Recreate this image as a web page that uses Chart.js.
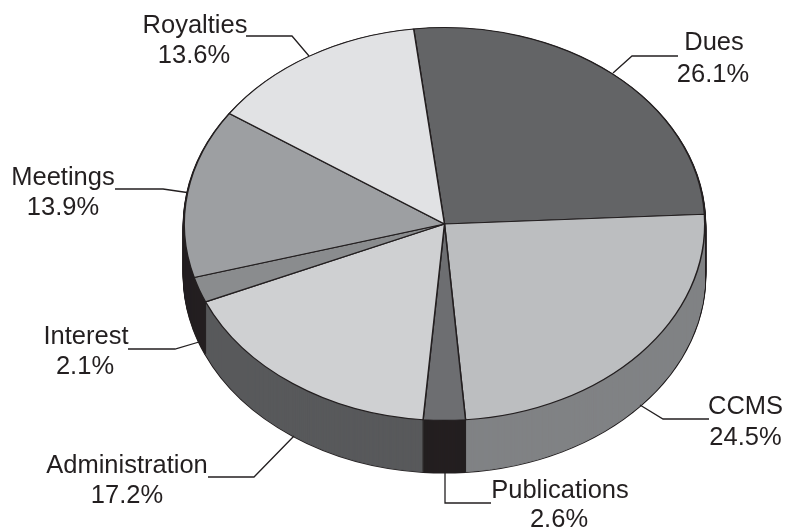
<!DOCTYPE html>
<html>
<head>
<meta charset="utf-8">
<style>html,body{margin:0;padding:0;background:#fff}canvas{display:block}</style>
<script src="https://cdn.jsdelivr.net/npm/chart.js@4"></script>
</head>
<body>
<canvas id="c" width="787" height="531" style="width:787px;height:531px"></canvas>
<script>
const categories = ['Dues','CCMS','Publications','Administration','Interest','Meetings','Royalties'];
const values = [26.1,24.5,2.6,17.2,2.1,13.9,13.6];
const topColors = ['#636466','#bcbec0','#6d6e71','#cfd0d2','#8a8c8e','#9d9fa2','#e1e2e4'];
const wallColors = ['#4a4a4c','#808285','#231f20','#58595b','#231f20','#231f20','#231f20'];

const INK = '#231f20';
const CX = 444.5, CY = 224, SQUASH = 197/261, DEPTH = 52;
// label anchors: [name x, name y, value x, value y]
const labelPos = [
  [714,42.5,713,74.5],[745.5,406.5,745.5,437.5],[560,490.5,559,520],[127,465.5,127,495.5],
  [86,336.5,85,366.5],[63,177.5,63,207.5],[195,25.5,194,55.5]
];
const leaders = [
  [[678,56],[632,56],[613,73]],
  [[709,419],[663,419],[640,405]],
  [[445,472],[445,503],[491,503]],
  [[208,477],[254,477],[294,436]],
  [[128,349],[175,349],[199,342]],
  [[115,189],[163,189],[187,192.5]],
  [[246,36],[292,36],[309,56]]
];

function place(ctx, el, dy){
  ctx.translate(CX, CY + dy);
  ctx.scale(1, SQUASH);
  ctx.translate(-el.x, -el.y);
}
function drawWith(ctx, el, over){
  const saved = el.options;
  el.options = Object.assign(Object.create(saved), over);
  el.draw(ctx);
  el.options = saved;
}

const pie3d = {
  id:'pie3d',
  beforeDatasetsDraw(chart){
    const ctx = chart.ctx, els = chart.getDatasetMeta(0).data;
    // outline silhouette of the wall
    for(let d = DEPTH; d >= 1; d--){
      els.forEach(el=>{
        ctx.save(); place(ctx, el, d);
        drawWith(ctx, el, {backgroundColor:INK, borderColor:INK, borderWidth:3});
        ctx.restore();
      });
    }
    for(let d = DEPTH; d >= 1; d--){
      els.forEach((el,i)=>{
        ctx.save(); place(ctx, el, d);
        drawWith(ctx, el, {backgroundColor:wallColors[i], borderColor:wallColors[i], borderWidth:1});
        ctx.restore();
      });
    }
    // vertical seams on the front of the wall
    ctx.save();
    ctx.strokeStyle = INK; ctx.lineWidth = 1;
    els.forEach(el=>{
      const s = Math.sin(el.startAngle);
      if(s > 0){
        const x = CX + el.outerRadius*Math.cos(el.startAngle);
        const y = CY + el.outerRadius*SQUASH*s;
        ctx.beginPath(); ctx.moveTo(x,y); ctx.lineTo(x,y+DEPTH); ctx.stroke();
      }
    });
    ctx.restore();
    // top face drawn by Chart.js inside the squashed transform
    const el0 = els[0];
    ctx.save();
    place(ctx, el0, 0);
  },
  afterDatasetsDraw(chart){
    const ctx = chart.ctx;
    ctx.restore();
    ctx.save();
    ctx.strokeStyle = INK; ctx.lineWidth = 1.3; ctx.lineJoin = 'miter';
    leaders.forEach(p=>{
      ctx.beginPath();
      p.forEach((q,i)=> i ? ctx.lineTo(q[0],q[1]) : ctx.moveTo(q[0],q[1]));
      ctx.stroke();
    });
    ctx.fillStyle = INK;
    ctx.font = '25.5px "Liberation Sans", Arial, sans-serif';
    ctx.textAlign = 'center'; ctx.textBaseline = 'middle';
    categories.forEach((name,i)=>{
      const p = labelPos[i];
      ctx.fillText(name, p[0], p[1]);
      ctx.fillText(values[i].toFixed(1)+'%', p[2], p[3]);
    });
    ctx.restore();
  }
};

new Chart(document.getElementById('c').getContext('2d'), {
  type:'pie',
  data:{labels:categories, datasets:[{
    data:values, backgroundColor:topColors, borderColor:INK, borderWidth:1.5, clip:false
  }]},
  options:{
    responsive:false, animation:false, devicePixelRatio:1,
    rotation:-6.8,
    layout:{padding:{left:183,right:82,top:4.5,bottom:4.5}},
    plugins:{legend:{display:false},tooltip:{enabled:false}}
  },
  plugins:[pie3d]
});
</script>
</body>
</html>
